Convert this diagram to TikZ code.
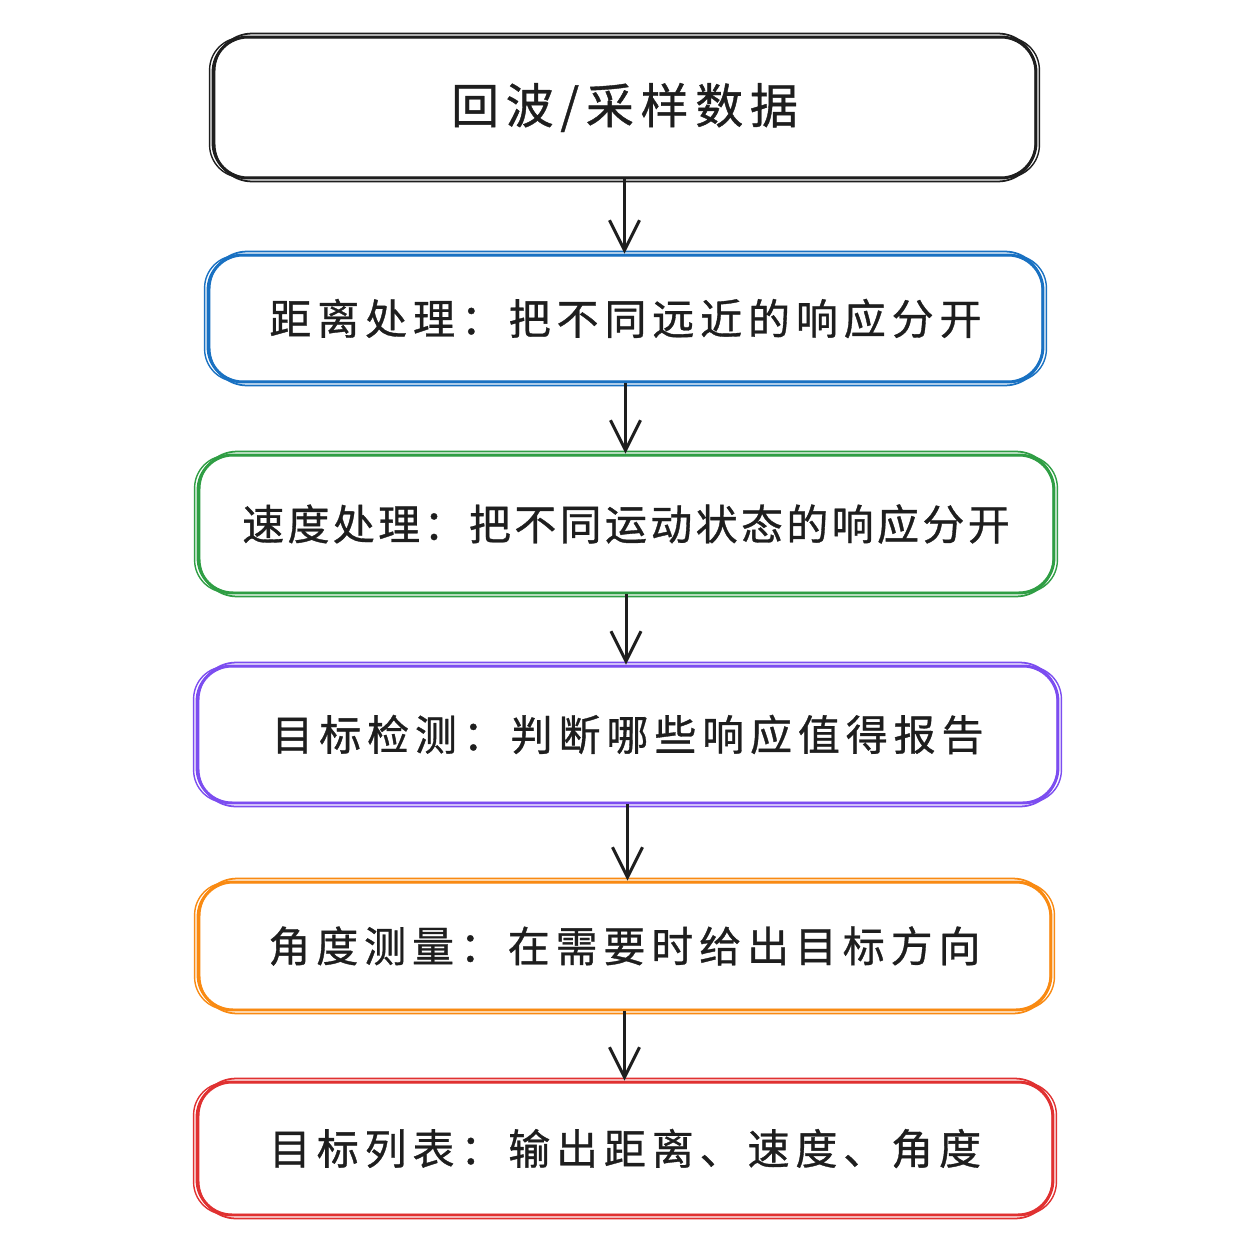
\documentclass[tikz,border=0pt]{standalone}
\usepackage{fontspec}
\newfontfamily\cjk[LetterSpace=14,FakeBold=0.8]{Noto Sans CJK SC}
\newfontfamily\cjknarrow[LetterSpace=8,FakeBold=0.8]{Noto Sans CJK SC}
\usetikzlibrary{arrows.meta}
\definecolor{inkblack}{HTML}{1E1E1E}
\definecolor{inkblue}{HTML}{1971C2}
\definecolor{inkgreen}{HTML}{2F9E44}
\definecolor{inkpurple}{HTML}{7C4DF0}
\definecolor{inkorange}{HTML}{F98A12}
\definecolor{inkred}{HTML}{E03131}
\newcommand\sketchbox[2]{%
  \draw[#2, line width=1pt, rounded corners=0.75cm]
    ([shift={(3,-2)}]#1.north west) rectangle ([shift={(-2,2)}]#1.south east);
  \draw[#2, line width=0.8pt, rounded corners=0.65cm]
    ([shift={(-2,2)}]#1.north west) rectangle ([shift={(2,-2)}]#1.south east);
}
\begin{document}
\begin{tikzpicture}[x=0.02cm,y=-0.02cm,
  stepbox/.style={draw, line width=1.7pt, rounded corners=0.7cm, inner sep=0pt,
    text=inkblack, font=\fontsize{23.9}{28}\cjk},
  arr/.style={draw=inkblack, line width=1.7pt,
    -{Straight Barb[length=0.6cm,width=0.6cm,line width=1.7pt]}}]
\useasboundingbox[fill=white] (0,0) rectangle (1254,1254);

\node[stepbox, draw=inkblack, minimum width=16.46cm, minimum height=2.82cm, font=\fontsize{27.3}{32}\cjk] (b1) at (624.5,107.5) {回波/采样数据};
\node[stepbox, draw=inkblue, minimum width=16.7cm, minimum height=2.54cm] (b2) at (625.5,318.5) {距离处理：把不同远近的响应分开};
\node[stepbox, draw=inkgreen, minimum width=17.12cm, minimum height=2.76cm, font=\fontsize{23.9}{28}\cjknarrow] (b3) at (626,524) {速度处理：把不同运动状态的响应分开};
\node[stepbox, draw=inkpurple, minimum width=17.22cm, minimum height=2.74cm] (b4) at (627.5,734.5) {目标检测：判断哪些响应值得报告};
\node[stepbox, draw=inkorange, minimum width=17.06cm, minimum height=2.56cm] (b5) at (624.5,946) {角度测量：在需要时给出目标方向};
\node[stepbox, draw=inkred, minimum width=17.12cm, minimum height=2.66cm] (b6) at (625,1148.5) {目标列表：输出距离、速度、角度};

\sketchbox{b1}{inkblack}
\sketchbox{b2}{inkblue}
\sketchbox{b3}{inkgreen}
\sketchbox{b4}{inkpurple}
\sketchbox{b5}{inkorange}
\sketchbox{b6}{inkred}

\draw[arr] (b1.south) -- (b1.south |- b2.north);
\draw[arr] (b2.south) -- (b2.south |- b3.north);
\draw[arr] (b3.south) -- (b3.south |- b4.north);
\draw[arr] (b4.south) -- (b4.south |- b5.north);
\draw[arr] (b5.south) -- (b5.south |- b6.north);
\end{tikzpicture}
\end{document}
